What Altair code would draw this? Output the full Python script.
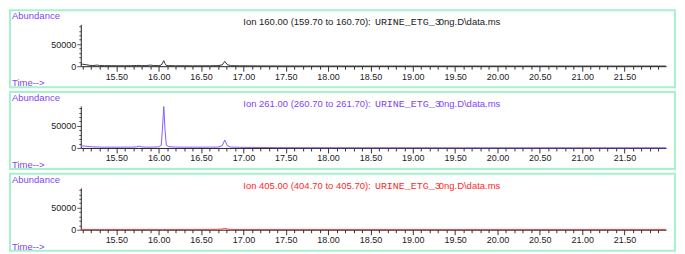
import altair as alt
import pandas as pd

# ---- data ----
times = [15.08, 15.10, 15.14, 15.18, 15.22, 15.26, 15.28, 15.30, 15.36, 15.44,
         15.52, 15.60, 15.68, 15.74, 15.77, 15.80, 15.86, 15.90, 15.94, 16.00,
         16.03, 16.045, 16.06, 16.075, 16.09, 16.12, 16.20, 16.30, 16.40, 16.50,
         16.60, 16.70, 16.75, 16.78, 16.81, 16.85, 16.95, 17.10, 17.40, 17.80,
         18.40, 19.00, 19.60, 20.20, 20.80, 21.40, 21.99]

ion160 = [3000, 4500, 3500, 2000, 1500, 2200, 2500, 1500, 1200, 1200,
          1000, 1000, 1200, 1500, 1800, 1200, 1500, 2500, 1500, 1200,
          2500, 7000, 12500, 6000, 1500, 1200, 1000, 1000, 900, 900,
          1000, 1200, 3000, 11000, 3500, 1200, 900, 700, 500, 400,
          300, 300, 300, 300, 300, 300, 300]

ion261 = [4000, 4500, 4000, 3200, 2500, 2200, 2500, 2000, 1800, 1800,
          1700, 2000, 1800, 2500, 4000, 2200, 1800, 1800, 2000, 2500,
          6000, 45000, 94000, 40000, 6000, 3000, 2000, 1800, 1700, 1700,
          1800, 2000, 5000, 18000, 5000, 2000, 1500, 1200, 800, 600,
          500, 500, 400, 400, 400, 400, 400]

ion405 = [600, 700, 600, 500, 500, 500, 500, 500, 500, 500,
          500, 500, 500, 600, 500, 500, 500, 800, 500, 500,
          500, 500, 600, 500, 500, 500, 500, 500, 600, 600,
          700, 900, 1500, 3000, 1500, 700, 500, 400, 300, 300,
          300, 300, 300, 300, 300, 300, 300]

titles = ["Ion 160.00 (159.70 to 160.70):",
          "Ion 261.00 (260.70 to 261.70):",
          "Ion 405.00 (404.70 to 405.70):"]
file_a = "URINE_ETG_3"
file_b = "0ng.D\\data.ms"
line_colors = ["#333333", "#8a5cff", "#ff3b3b"]
title_colors = ["#222222", "#7f45f5", "#ff2a2a"]
series = [ion160, ion261, ion405]

x_ticks = [round(15.1 + 0.1 * i, 1) for i in range(69)]
y_ticks = [10000 * i for i in range(10)]

W, H = 667, 77
X0, X1 = 71, 658
Y0, Y1 = 56, 14
PURPLE = "#7f45f5"
SANS = "Liberation Sans"
MONO = "Liberation Mono"


def panel(i):
    df = pd.DataFrame({"time": times, "abundance": series[i]})
    line = alt.Chart(df).mark_line(
        color=line_colors[i], strokeWidth=1, clip=False
    ).encode(
        x=alt.X("time:Q",
                scale=alt.Scale(domain=[15.08, 21.99], range=[X0, X1], nice=False, zero=False),
                axis=alt.Axis(
                    title=None, orient="bottom", offset=-(H - Y0),
                    values=x_ticks, format=".2f",
                    labelExpr="abs(datum.value*2 - round(datum.value*2)) < 0.01 ? datum.label : ''",
                    tickSize={"condition": {"test": "abs(datum.value*2 - round(datum.value*2)) < 0.01", "value": 5}, "value": 3},
                    labelOverlap=False, labelPadding=1, grid=False,
                    labelFont=SANS, labelFontSize=9, labelColor="#222222",
                    domainColor="#222222", tickColor="#333333",
                    domainWidth=1, tickWidth=1,
                )),
        y=alt.Y("abundance:Q",
                scale=alt.Scale(domain=[0, 95000], range=[Y0, Y1], nice=False),
                axis=alt.Axis(
                    title=None, orient="left", offset=-X0,
                    values=y_ticks, format="d",
                    labelExpr="datum.value == 0 || datum.value == 50000 ? datum.label : ''",
                    tickSize={"condition": {"test": "datum.value == 0 || datum.value == 50000", "value": 4}, "value": 2},
                    labelOverlap=False, labelPadding=1, grid=False,
                    labelFont=SANS, labelFontSize=9, labelColor="#222222",
                    domainColor="#222222", tickColor="#555555",
                    domainWidth=1, tickWidth=1,
                )),
    )

    def txt(s, x, y, color, font=SANS, size=9.5):
        return alt.Chart(pd.DataFrame({"t": [s]})).mark_text(
            align="left", baseline="middle", font=font, fontSize=size, color=color
        ).encode(text="t:N", x=alt.value(x), y=alt.value(y))

    layers = [
        line,
        txt("Abundance", 2, 6, PURPLE),
        txt("Time-->", 2, 73, PURPLE),
        txt(titles[i], 234, 12, title_colors[i]),
        txt(file_a, 366, 12, title_colors[i], font=MONO, size=10),
        txt(file_b, 430, 12, title_colors[i]),
    ]
    return alt.layer(*layers).properties(width=W, height=H)


chart = alt.vconcat(panel(0), panel(1), panel(2), spacing=2).properties(
    padding=1
).configure_view(
    stroke="#a6f2cc", strokeWidth=2
).configure_concat(spacing=2)

chart.save("out.html", embed_options={"renderer": "svg", "actions": False})
